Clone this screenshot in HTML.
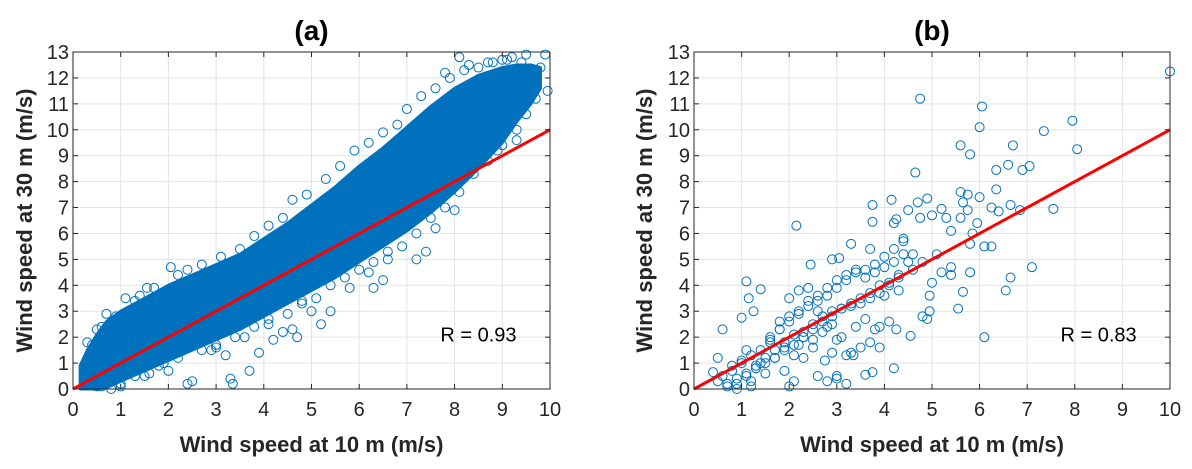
<!DOCTYPE html>
<html><head><meta charset="utf-8">
<style>
html,body{margin:0;padding:0;background:#fff;}
svg{display:block;font-family:"Liberation Sans",sans-serif;}
</style></head>
<body>
<svg id="fig" width="1192" height="469" viewBox="0 0 1192 469"></svg>
<script>
// ---- data panel (a) ----
const envX  = [0.15,0.3,0.5,0.7,1.0,1.5,2.0,2.5,3.0,3.5,4.0,4.5,5.0,5.5,6.0,6.5,7.0,7.5,8.0,8.5,9.0,9.3,9.6,9.8];
const envLo = [0.0,0.0,0.0,0.05,0.3,0.7,1.1,1.5,1.9,2.3,2.8,3.3,3.8,4.3,4.9,5.5,6.1,6.8,7.6,8.5,9.5,10.3,11.0,11.6];
const envHi = [0.9,1.5,2.1,2.6,3.0,3.5,4.0,4.4,4.8,5.2,5.8,6.4,7.1,7.8,8.6,9.3,10.1,10.9,11.6,12.1,12.4,12.5,12.5,12.4];
const outAX = [0.25,0.4,0.6,0.9,1.3,1.55,2.05,2.4,2.6,3.2,3.7,3.3,3.35,2.4,2.5,2.0,3.0,3.9,4.2,4.6,4.4,4.7,5.2,5.4,5.5,5.7,6.4,6.7,6.9,7.1,7.9,7.8,8.1,8.3,8.7,9.0,9.2,9.5,9.8,9.9,9.95,7.6,6.5,5.8,5.0,4.8,6.2,7.2,8.0,8.9,9.3,1.0,1.8,0.5,0.8,1.5,2.9,3.6,4.1,6.3,6.6,7.4,
 0.3,0.5,0.7,1.1,1.4,1.7,2.2,2.7,3.1,3.5,3.8,4.1,4.4,4.6,4.9,5.3,5.6,5.9,6.2,6.5,6.8,7.0,7.3,7.6,7.9,8.2,8.5,8.8,9.1,9.4,9.6,9.7,
 0.6,1.0,1.3,1.6,1.9,2.2,2.7,3.0,3.4,3.8,4.1,4.5,4.8,5.1,5.4,5.7,6.0,6.3,6.6,6.9,7.2,7.5,7.8,8.1,8.4,8.7,9.0,9.3,9.5,9.7];
const outAY = [0.9,1.7,2.4,2.8,3.4,3.9,4.7,4.6,2.0,1.3,0.7,0.4,0.2,0.2,0.3,0.7,1.7,1.4,1.9,2.3,2.2,2.0,2.5,3.0,5.6,7.0,7.6,8.8,9.0,10.0,11.0,12.2,12.8,12.5,12.6,12.7,12.8,12.9,12.4,12.9,11.5,6.2,4.2,3.9,3.0,3.3,4.5,5.0,6.9,9.2,9.6,0.1,0.9,0.1,0.0,0.5,1.5,2.0,2.7,3.9,5.0,5.3,
 1.8,2.3,2.9,3.5,3.6,3.9,4.4,4.8,5.1,5.4,5.9,6.3,6.6,7.3,7.5,8.1,8.6,9.2,9.5,9.9,10.2,10.8,11.3,11.6,12.0,12.3,12.4,12.6,12.7,12.6,12.3,11.9,
 0.1,0.2,0.5,0.6,1.0,1.2,1.5,1.6,2.0,2.4,2.5,2.9,3.4,3.5,4.0,4.3,4.6,4.9,5.3,5.5,6.0,6.6,7.0,7.6,8.3,8.8,9.4,10.0,10.6,11.2];
const rA = "R = 0.93";
// ---- data panel (b) ----
const bX = [10,4.75,6.05,6,7.95,7.35,8.05,5.6,5.8,6.7,4.65,6.35,6.6,6.9,7.05,5.6,5.75,6,6.35,3.75,4.15,4.7,4.9,5.65,6.25,6.65,6.4,6.85,7.55,5.75,4.5,2.15,3.75,4.2,4.25,4.75,5,5.2,5.95,5.3,5.6,5.4,5.85,6.1,6.25,5.8,5.4,5.4,5.8,7.1,6.65,6.55,5.65,5.55,6.1,4.95,4.8,4.95,4.9,4.55,4.25,4.2,3.75,3.6,1.1,1.15,1.4,1.25,1,0.6,0.5,0.4,3.3,3.7,2.45,2.9,3.05,
 0.5,0.6,0.7,0.8,0.9,1.0,1.1,1.2,1.3,1.4,1.5,1.6,1.7,1.8,1.9,2.0,2.1,2.2,2.3,2.4,2.5,2.6,2.7,2.8,2.9,3.0,3.1,3.2,3.3,3.4,3.5,3.6,3.7,3.8,3.9,4.0,4.1,4.2,4.3,4.4,4.5,
 0.7,0.9,1.1,1.3,1.5,1.7,1.9,2.1,2.3,2.5,2.7,2.9,3.1,3.3,3.5,3.7,3.9,4.1,4.3,4.6,4.8,5.1,
 0.8,1.0,1.2,1.4,1.6,1.8,2.0,2.2,2.4,2.6,2.8,3.0,3.2,3.4,3.6,3.8,4.0,4.2,4.4,
 1.1,1.3,1.5,1.7,1.9,2.1,2.3,2.5,2.7,2.9,3.1,3.3,3.5,3.7,3.9,
 0.9,1.2,1.6,1.8,2.0,2.2,2.4,2.6,2.8,3.0,3.2,3.4,3.6,3.8,4.0,4.3,
 2.0,2.1,2.3,2.6,2.8,3.0,2.9,3.2,1.9,2.2,2.5,2.75,3.0,3.35,3.9,4.1,4.4,4.6,5.0,5.2];
const bY = [12.25,11.2,10.9,10.1,10.35,9.95,9.25,9.4,9.05,9.4,8.35,8.45,8.65,8.45,8.6,7.6,7.5,7.4,7.7,7.1,7.3,7.2,7.35,7.2,7,7.1,6.85,6.9,6.95,6.9,6.9,6.3,6.45,6.4,6.55,6.6,6.7,6.95,6.4,6.6,6.6,6.1,6,5.5,5.5,5.6,4.7,4.4,4.5,4.7,4.3,3.8,3.75,3.1,2,3.6,2.8,3,2.7,2.05,2.3,0.8,0.65,0.55,4.15,3.5,3.85,3,2.75,2.3,1.2,0.65,5.6,5.4,4.8,5,5.05,
 0.3,0.5,0.2,0.9,0.4,1.0,0.6,1.3,0.9,1.5,1.2,1.9,1.5,2.3,1.8,2.6,2.1,2.9,2.2,3.2,2.5,3.4,2.8,3.6,3.0,3.9,3.1,4.2,3.3,4.5,3.5,4.6,3.7,4.8,4.0,5.1,4.1,5.4,4.4,5.7,4.9,
 0.1,0.2,0.5,0.8,1.0,1.2,1.5,1.7,2.0,2.3,2.6,2.8,3.1,3.2,3.3,3.5,3.7,4.0,4.3,4.6,4.9,5.2,
 0.7,1.1,0.3,1.0,1.8,2.3,2.8,3.0,3.4,3.6,3.9,4.2,4.4,4.6,4.3,4.5,4.7,4.9,5.2,
 1.5,0.8,0.6,1.2,1.6,1.3,2.0,1.9,2.2,2.5,2.0,1.4,1.6,1.8,2.4,
 0.0,0.1,2.0,2.6,3.5,3.8,3.9,3.0,2.4,1.9,1.3,2.4,2.7,2.3,3.6,3.8,
 0.1,0.3,1.2,0.5,0.3,0.4,1.4,0.2,0.7,1.7,1.6,1.1,0.5,1.3,1.6,2.6,5.8,5.2,4.1,4.5];
const rB = "R = 0.83";
const xTicks = [0,1,2,3,4,5,6,7,8,9,10];
const yTicks = [0,1,2,3,4,5,6,7,8,9,10,11,12,13];

const NS="http://www.w3.org/2000/svg", svg=document.getElementById('fig');
function mk(tag,attrs,parent){const e=document.createElementNS(NS,tag);for(const k in attrs)e.setAttribute(k,attrs[k]);(parent||svg).appendChild(e);return e;}
const BLUE="#0072BD";

function panel(id,L,R,title,rText,yLabX){
  const T=52,B=389;
  const sx=v=>L+(R-L)*v/10, sy=v=>B-(B-T)*v/13;
  const g=mk('g',{});
  
  
  xTicks.forEach(t=>{const l=mk('line',{x1:sx(t),x2:sx(t),y1:T,y2:B,stroke:'#e3e3e3','stroke-width':1},g);
    
    });
  yTicks.forEach(t=>{const l=mk('line',{x1:L,x2:R,y1:sy(t),y2:sy(t),stroke:'#e3e3e3','stroke-width':1},g);
    
    });
  return {g,sx,sy,T,B,L,R,title,rText,yLabX,id};
}
function finish(p){
  const {g,sx,sy,T,B,L,R}=p;
  const rl=mk('line',{x1:sx(0),y1:sy(0),x2:sx(10),y2:sy(10),stroke:'#ff0000','stroke-width':3},g);
  
  
  const box=mk('rect',{x:L,y:T,width:R-L,height:B-T,fill:'none',stroke:'#262626','stroke-width':1},g);
  
  
  xTicks.forEach(t=>{
    mk('line',{x1:sx(t),x2:sx(t),y1:B,y2:B-5,stroke:'#262626'},g);
    mk('line',{x1:sx(t),x2:sx(t),y1:T,y2:T+5,stroke:'#262626'},g);
    const tx=mk('text',{x:sx(t),y:B+27,'text-anchor':'middle','font-size':20,fill:'#262626'},g);tx.textContent=t;
    
    
  });
  yTicks.forEach(t=>{
    mk('line',{x1:L,x2:L+5,y1:sy(t),y2:sy(t),stroke:'#262626'},g);
    mk('line',{x1:R,x2:R-5,y1:sy(t),y2:sy(t),stroke:'#262626'},g);
    const tx=mk('text',{x:L-4,y:sy(t)+7,'text-anchor':'end','font-size':20,fill:'#262626'},g);tx.textContent=t;
    
    
  });
  const ti=mk('text',{x:(L+R)/2,y:40,'text-anchor':'middle','font-size':28,'font-weight':'bold',fill:'#000'},g);ti.textContent=p.title;
  
  
  const xl=mk('text',{x:(L+R)/2,y:452,'text-anchor':'middle','font-size':22,'font-weight':'bold',fill:'#262626'},g);xl.textContent='Wind speed at 10 m (m/s)';
  
  
  const yl=mk('text',{x:0,y:0,'text-anchor':'middle','font-size':22,'font-weight':'bold',fill:'#262626',transform:`translate(${p.yLabX},${(T+B)/2}) rotate(-90)`},g);yl.textContent='Wind speed at 30 m (m/s)';
  
  
  const rt=mk('text',{x:sx(8.5),y:sy(2.1)+7,'text-anchor':'middle','font-size':20,fill:'#000'},g);rt.textContent=p.rText;
  
  
}

// Panel a
const pa=panel('a',73,550,'(a)',rA,32);
let d='';
envX.forEach((x,i)=>{d+=(i?'L':'M')+pa.sx(x)+','+pa.sy(envHi[i]);});
for(let i=envX.length-1;i>=0;i--) d+='L'+pa.sx(envX[i])+','+pa.sy(envLo[i]);
d+='Z';
const band=mk('path',{d:d,fill:BLUE,stroke:BLUE,'stroke-width':3,'stroke-linejoin':'round'},pa.g);


outAX.forEach((x,i)=>{
  const c=mk('circle',{cx:pa.sx(x),cy:pa.sy(outAY[i]),r:4.5,fill:'none',stroke:BLUE,'stroke-width':1},pa.g);
  
  
});
finish(pa);

// Panel b
const pb=panel('b',694,1170,'(b)',rB,652);
bX.forEach((x,i)=>{
  const c=mk('circle',{cx:pb.sx(x),cy:pb.sy(bY[i]),r:4.5,fill:'none',stroke:BLUE,'stroke-width':1},pb.g);
  
  
});
finish(pb);
</script>
</body></html>
